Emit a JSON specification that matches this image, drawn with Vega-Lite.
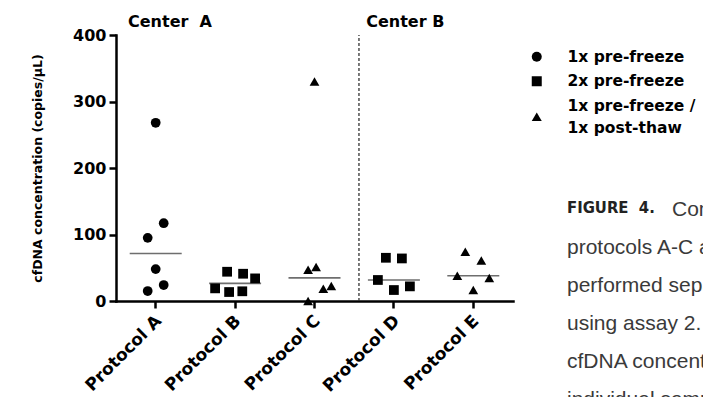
{
  "$schema": "https://vega.github.io/schema/vega-lite/v6.json",
  "width": 397,
  "height": 266,
  "autosize": {"type": "none"},
  "padding": {"left": 116, "top": 35, "right": 190, "bottom": 96},
  "background": "white",
  "title": {
    "text": "FIGURE\u00a0 4.",
    "subtitle": [
      "\u200b\u00a0\u00a0\u00a0\u00a0\u00a0\u00a0\u00a0\u00a0\u00a0\u00a0\u00a0\u00a0\u00a0\u00a0\u00a0\u00a0\u00a0\u00a0Comparison of",
      "protocols A-C and D-E",
      "performed separately",
      "using assay 2. The",
      "cfDNA concentrations of",
      "individual samples"
    ],
    "anchor": "start",
    "frame": "group",
    "orient": "top",
    "dx": 451,
    "dy": 401,
    "font": "Liberation Sans Narrow, DejaVu Sans Condensed, Liberation Sans",
    "fontSize": 16.5,
    "fontWeight": "bold",
    "color": "#222222",
    "subtitleFont": "Liberation Sans",
    "subtitleFontSize": 21,
    "subtitleFontWeight": "normal",
    "subtitleColor": "#3a3a3a",
    "subtitleLineHeight": 38,
    "subtitlePadding": -17.5
  },
  "data": {
    "values": [
      {"protocol": "Protocol A", "group": "1x pre-freeze", "value": 268, "jitter": 0},
      {"protocol": "Protocol A", "group": "1x pre-freeze", "value": 117, "jitter": 1},
      {"protocol": "Protocol A", "group": "1x pre-freeze", "value": 95, "jitter": -1},
      {"protocol": "Protocol A", "group": "1x pre-freeze", "value": 48, "jitter": 0},
      {"protocol": "Protocol A", "group": "1x pre-freeze", "value": 24, "jitter": 1},
      {"protocol": "Protocol A", "group": "1x pre-freeze", "value": 15, "jitter": -1},
      {"protocol": "Protocol B", "group": "2x pre-freeze", "value": 44, "jitter": -1},
      {"protocol": "Protocol B", "group": "2x pre-freeze", "value": 41, "jitter": 1},
      {"protocol": "Protocol B", "group": "2x pre-freeze", "value": 34, "jitter": 2.5},
      {"protocol": "Protocol B", "group": "2x pre-freeze", "value": 19, "jitter": -2.5},
      {"protocol": "Protocol B", "group": "2x pre-freeze", "value": 13.5, "jitter": -0.75},
      {"protocol": "Protocol B", "group": "2x pre-freeze", "value": 14.6, "jitter": 0.9},
      {"protocol": "Protocol C", "group": "1x pre-freeze / 1x post-thaw", "value": 330, "jitter": 0},
      {"protocol": "Protocol C", "group": "1x pre-freeze / 1x post-thaw", "value": 47, "jitter": -0.8},
      {"protocol": "Protocol C", "group": "1x pre-freeze / 1x post-thaw", "value": 51, "jitter": 0.2},
      {"protocol": "Protocol C", "group": "1x pre-freeze / 1x post-thaw", "value": 18.5, "jitter": 1.1},
      {"protocol": "Protocol C", "group": "1x pre-freeze / 1x post-thaw", "value": 22.5, "jitter": 2.1},
      {"protocol": "Protocol C", "group": "1x pre-freeze / 1x post-thaw", "value": 0, "jitter": -0.8},
      {"protocol": "Protocol D", "group": "2x pre-freeze", "value": 65, "jitter": -1},
      {"protocol": "Protocol D", "group": "2x pre-freeze", "value": 64, "jitter": 1},
      {"protocol": "Protocol D", "group": "2x pre-freeze", "value": 31.6, "jitter": -2},
      {"protocol": "Protocol D", "group": "2x pre-freeze", "value": 16.5, "jitter": 0},
      {"protocol": "Protocol D", "group": "2x pre-freeze", "value": 22, "jitter": 2},
      {"protocol": "Protocol E", "group": "1x pre-freeze / 1x post-thaw", "value": 74, "jitter": -1},
      {"protocol": "Protocol E", "group": "1x pre-freeze / 1x post-thaw", "value": 61, "jitter": 1},
      {"protocol": "Protocol E", "group": "1x pre-freeze / 1x post-thaw", "value": 38, "jitter": -2},
      {"protocol": "Protocol E", "group": "1x pre-freeze / 1x post-thaw", "value": 34.6, "jitter": 2},
      {"protocol": "Protocol E", "group": "1x pre-freeze / 1x post-thaw", "value": 16.5, "jitter": 0}
    ]
  },
  "resolve": {"scale": {"shape": "independent"}},
  "layer": [
    {
      "data": {"values": [{"protocol": "Protocol D"}]},
      "mark": {"type": "rule", "strokeDash": [3, 2], "strokeWidth": 1.3, "color": "#333333"},
      "encoding": {
        "x": {"field": "protocol", "type": "nominal", "bandPosition": 0.06, "title": null},
        "y": {"datum": 0, "type": "quantitative", "title": "cfDNA concentration (copies/\u03bcL)"},
        "y2": {"datum": 400}
      }
    },
    {
      "mark": {"type": "tick", "size": 52, "thickness": 1.6, "color": "#6e6e6e"},
      "encoding": {
        "x": {"field": "protocol", "type": "nominal", "title": null},
        "y": {"aggregate": "median", "field": "value", "type": "quantitative", "title": "cfDNA concentration (copies/\u03bcL)"}
      }
    },
    {
      "mark": {"type": "point", "filled": true, "size": 95, "color": "black", "opacity": 1},
      "encoding": {
        "x": {
          "field": "protocol",
          "type": "nominal",
          "title": null,
          "scale": {"domain": ["Protocol A", "Protocol B", "Protocol C", "Protocol D", "Protocol E"], "paddingInner": 0, "paddingOuter": 0},
          "axis": {"labelAngle": -45, "labelPadding": 10, "labelFontSize": 17, "labelOffset": 3}
        },
        "xOffset": {"field": "jitter", "type": "quantitative", "scale": {"domain": [-1, 1], "range": [31.7, 47.7]}},
        "y": {
          "field": "value",
          "type": "quantitative",
          "title": "cfDNA concentration (copies/\u03bcL)",
          "scale": {"domain": [0, 400], "nice": false},
          "axis": {
            "values": [0, 100, 200, 300, 400],
            "labelPadding": 3,
            "titleFont": "DejaVu Sans",
            "titleFontWeight": "bold",
            "titleFontSize": 12.5,
            "titleColor": "black",
            "titlePadding": 28
          }
        },
        "shape": {
          "field": "group",
          "type": "nominal",
          "scale": {"domain": ["1x pre-freeze", "2x pre-freeze", "1x pre-freeze / 1x post-thaw"], "range": ["circle", "square", "triangle-up"]},
          "legend": null
        }
      }
    },
    {
      "mark": {"type": "point", "filled": true, "size": 95, "color": "black", "opacity": 0},
      "encoding": {
        "x": {"field": "protocol", "type": "nominal", "title": null},
        "xOffset": {"field": "jitter", "type": "quantitative"},
        "y": {"field": "value", "type": "quantitative", "title": "cfDNA concentration (copies/\u03bcL)"},
        "shape": {
          "field": "group",
          "type": "nominal",
          "scale": {"domain": ["1x pre-freeze", "2x pre-freeze", "1x pre-freeze / 1x post-thaw"], "range": ["circle", "square", "M0,1.334L-1,3.066L1,3.066Z"]},
          "legend": {
            "orient": "none",
            "legendX": 413,
            "legendY": 14,
            "title": null,
            "padding": 0,
            "labelFont": "DejaVu Sans",
            "labelFontWeight": "bold",
            "labelFontSize": 15.5,
            "labelColor": "black",
            "labelOffset": 23,
            "labelLimit": 400,
            "rowPadding": 7.5,
            "symbolSize": 100,
            "symbolStrokeWidth": 0,
            "symbolFillColor": "black",
            "symbolOpacity": 1,
            "labelExpr": "datum.label == '1x pre-freeze / 1x post-thaw' ? ['1x pre-freeze /', '1x post-thaw'] : datum.label"
          }
        }
      }
    },
    {
      "data": {"values": [{"protocol": "Protocol A", "center": "Center\u00a0 A"}, {"protocol": "Protocol D", "center": "Center B"}]},
      "mark": {"type": "text", "align": "left", "baseline": "alphabetic", "dx": 12, "dy": -8.5, "font": "DejaVu Sans", "fontWeight": "bold", "fontSize": 16, "color": "black"},
      "encoding": {
        "x": {"field": "protocol", "type": "nominal", "bandPosition": 0, "title": null},
        "y": {"datum": 400, "type": "quantitative", "title": "cfDNA concentration (copies/\u03bcL)"},
        "text": {"field": "center"}
      }
    }
  ],
  "config": {
    "view": {"stroke": null},
    "font": "DejaVu Sans",
    "style": {"guide-label": {"lineHeight": 22}},
    "axis": {
      "grid": false,
      "domainColor": "black",
      "domainWidth": 2.5,
      "domainCap": "square",
      "tickColor": "black",
      "tickWidth": 2.5,
      "tickSize": 7,
      "labelColor": "black",
      "labelFont": "DejaVu Sans",
      "labelFontWeight": "bold",
      "labelFontSize": 16
    }
  }
}
